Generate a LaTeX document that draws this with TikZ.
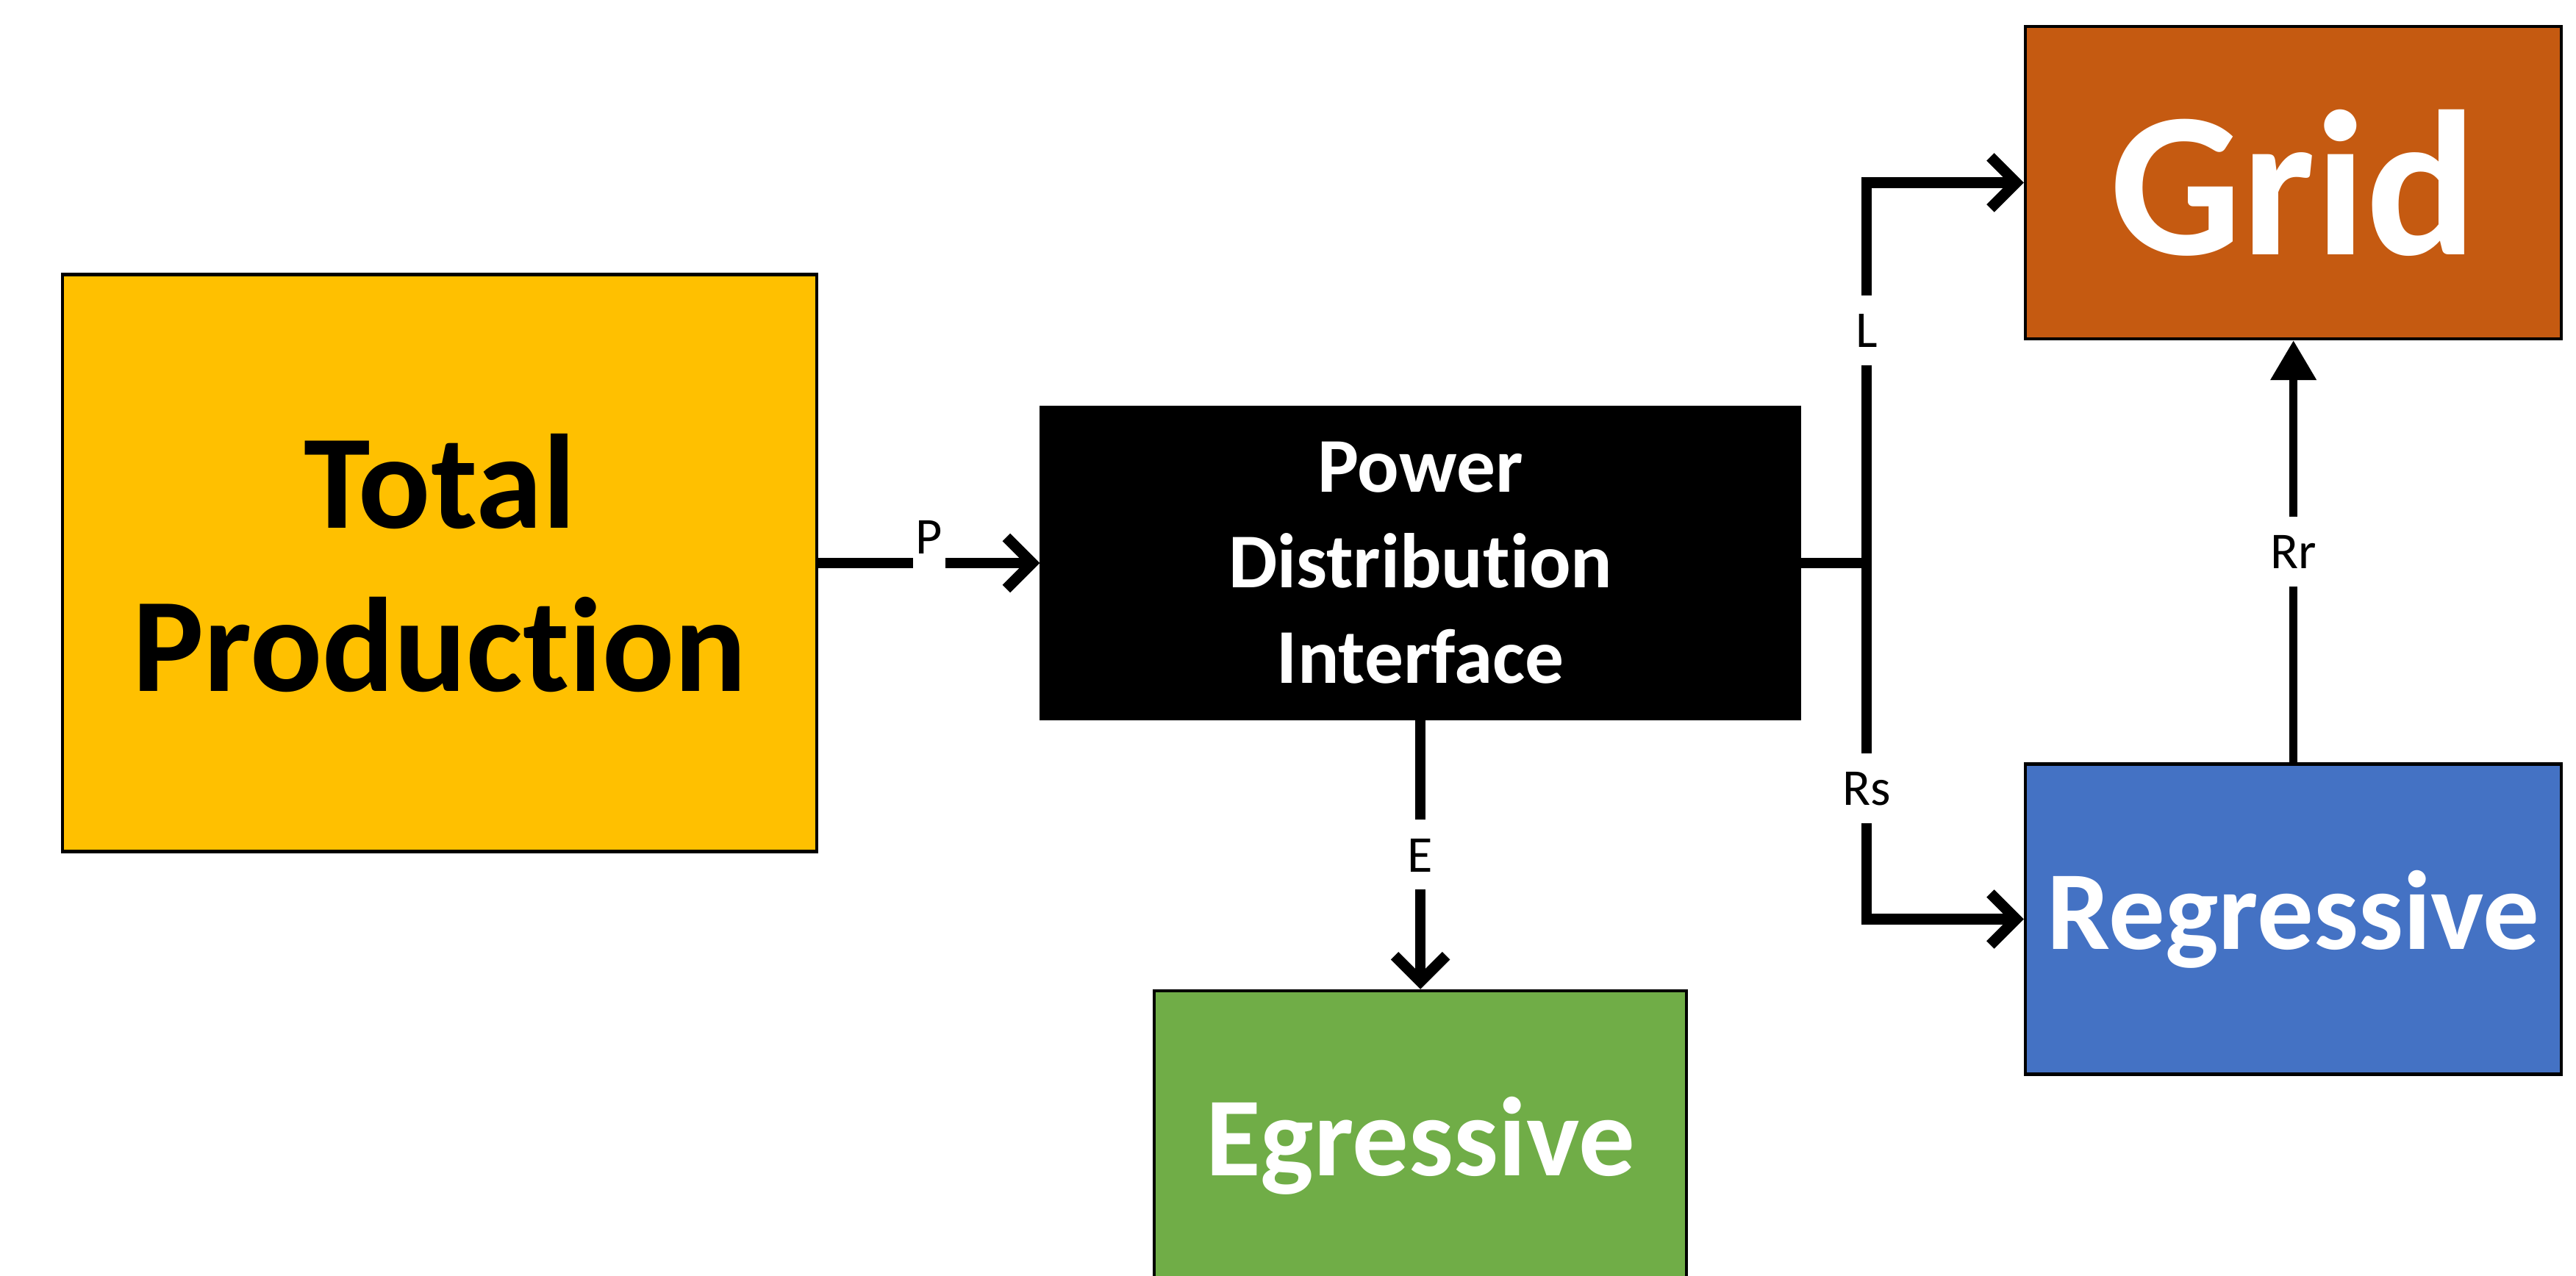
\documentclass[tikz,border=0pt]{standalone}
\usepackage{fontspec}
\setmainfont[Ligatures=NoCommon]{Carlito}
\usepackage{tikz}
\usetikzlibrary{arrows.meta,positioning}
\definecolor{prodgold}{HTML}{FFC000}
\definecolor{gridrust}{HTML}{C55A11}
\definecolor{regblue}{HTML}{4472C4}
\definecolor{egrgreen}{HTML}{70AD47}

\begin{document}
\begin{tikzpicture}[
  box/.style={draw=black, line width=1.3pt, inner sep=0pt, align=center},
  prodbox/.style={box, fill=prodgold, minimum width=10.26cm, minimum height=7.85cm,
                  font=\fontsize{52}{63}\selectfont\bfseries},
  pdibox/.style={box, fill=black, text=white, minimum width=10.31cm, minimum height=4.23cm,
                 font=\fontsize{30}{37}\selectfont\bfseries},
  gridbox/.style={box, fill=gridrust, text=white, minimum width=7.29cm, minimum height=4.25cm,
                  font=\fontsize{80}{96}\selectfont\bfseries},
  sinkbox/.style={box, text=white, minimum width=7.29cm, minimum height=4.22cm,
                  font=\fontsize{43.5}{53}\selectfont\bfseries},
  arr/.style={-{Straight Barb[length=3.5mm, width=7mm]}, line width=4.2pt},
  tarr/.style={-{Triangle[length=5.4mm, width=6mm]}, line width=3.2pt},
  lbl/.style={fill=white, inner xsep=0.04cm, inner ysep=0.24cm, text height=0.47cm,
              text depth=0pt, font=\fontsize{20}{24}\selectfont}
]
  \useasboundingbox (0,0) rectangle (35.04,17.36);
  \clip (0,0) rectangle (35.04,17.36);

  % Blocks
  \node[prodbox] (tot) at (5.98,9.70) {Total\\Production};
  \node[pdibox, right=3.01cm of tot] (pdi) {Power\\Distribution\\Interface};
  \node[sinkbox, fill=egrgreen, minimum width=7.24cm, below=3.66cm of pdi] (egr) {Egressive};
  \node[gridbox, above right=0.89cm and 3.03cm of pdi.north east] (grid) {Grid};
  \node[sinkbox, fill=regblue, below=5.74cm of grid] (reg) {Regressive};

  % Branch point
  \coordinate[right=0.89cm of pdi.east] (jn);

  % Flows
  \draw[arr] (tot) -- (pdi) node[lbl, midway, anchor=base, yshift=0.12cm] {P};
  \draw[arr] (pdi) -- (egr) node[lbl, midway] {E};
  \draw[arr] (pdi.east) -- (jn) |- (grid.west) node[lbl, pos=0.306] {L};
  \draw[arr] (jn) |- (reg.west) node[lbl, pos=0.316] {Rs};
  \draw[tarr] (reg) -- (grid) node[lbl, midway] {Rr};
\end{tikzpicture}
\end{document}
